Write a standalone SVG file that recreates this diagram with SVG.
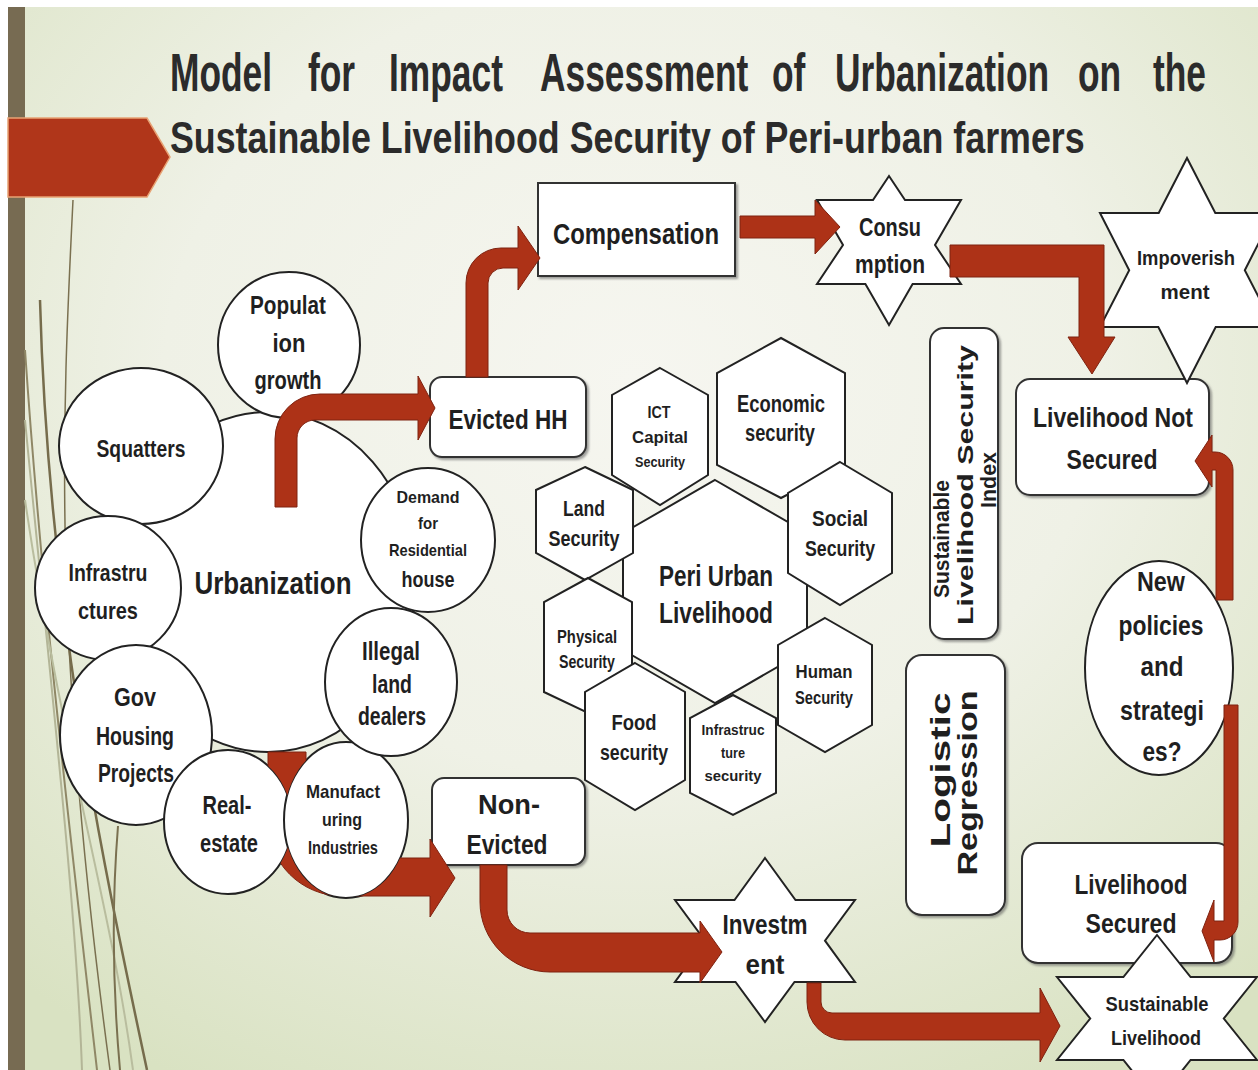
<svg xmlns="http://www.w3.org/2000/svg" width="1258" height="1070" viewBox="0 0 1258 1070">
  <defs>
    <radialGradient id="bgGrad" cx="0.5" cy="0.35" r="0.75">
      <stop offset="0" stop-color="#f6f6f0"/>
      <stop offset="0.5" stop-color="#eff1e6"/>
      <stop offset="1" stop-color="#d9e2c2"/>
    </radialGradient>
    <filter id="sh" x="-10%" y="-10%" width="130%" height="130%">
      <feDropShadow dx="2" dy="2" stdDeviation="1" flood-color="#555" flood-opacity="0.55"/>
    </filter>
    <mask id="behindIndustries">
      <rect x="0" y="0" width="1258" height="1070" fill="#fff"/>
      <ellipse cx="346" cy="820" rx="62" ry="78" fill="#000"/>
      <ellipse cx="228" cy="822" rx="64" ry="72" fill="#000"/>
    </mask>
    <style>
      .nd { fill: #fff; stroke: #222; stroke-width: 2; }
      .bx { fill: #fff; stroke: #333; stroke-width: 2; filter: url(#sh); }
      .ar { fill: #ad3217; stroke: #7e2210; stroke-width: 1; }
      .t { font-family: 'Liberation Sans', Arial, sans-serif; font-weight: 700; fill: #1f1f1f; text-anchor: middle; }
      .ttl { font-family: 'Liberation Sans', Arial, sans-serif; font-weight: 700; fill: #2b2b2b; }
      .deco { fill: none; }
    </style>
  </defs>

  <!-- slide background -->
  <rect x="0" y="0" width="1258" height="1070" fill="#fff"/>
  <rect x="8" y="7" width="1250" height="1063" fill="url(#bgGrad)"/>
  <rect x="8" y="7" width="17" height="1063" fill="#776b52"/>

  <!-- decorative curves on the left -->
  <g class="deco">
    <path d="M73 200 C62 420 52 640 110 1070" stroke="#7a7050" stroke-width="1.5"/>
    <path d="M25 350 C42 600 72 850 97 1070" stroke="#8f8766" stroke-width="2"/>
    <path d="M25 420 C50 680 76 900 82 1070" stroke="#b3b597" stroke-width="2"/>
    <path d="M40 300 C48 600 100 850 147 1070" stroke="#766c4c" stroke-width="2.5"/>
    <path d="M25 500 C62 750 110 900 133 1070" stroke="#b9bd9e" stroke-width="2"/>
    <path d="M118 826 C112 900 112 980 120 1070" stroke="#7a7050" stroke-width="2"/>
  </g>

  <!-- title banner -->
  <polygon points="8,118 147,118 170,157 147,197 8,197" fill="#b0361a" stroke="#e8a274" stroke-width="1.5"/>
  <g id="title">
    <text class="ttl" transform="translate(0,91) scale(0.655,1)" font-size="54"><tspan x="259.5">Model</tspan><tspan x="470.2">for</tspan><tspan x="593.9">Impact</tspan><tspan x="824.4">Assessment</tspan><tspan x="1178.6">of</tspan><tspan x="1274.8">Urbanization</tspan><tspan x="1645.8">on</tspan><tspan x="1760.3">the</tspan></text>
    <text class="ttl" transform="translate(170,153) scale(0.8135,1)" font-size="44" x="0">Sustainable Livelihood Security of Peri-urban farmers</text>
  </g>

  <g id="nodes">
    <!-- urbanization cluster -->
    <g id="urbanization">
      <ellipse class="nd" cx="268" cy="582" rx="148" ry="170"/>
      <text class="t" x="273" y="594" font-size="32" textLength="157" lengthAdjust="spacingAndGlyphs">Urbanization</text>
    </g>
    <g id="population-growth">
      <ellipse class="nd" cx="289" cy="345" rx="71" ry="73"/>
      <text class="t" x="288" y="314" font-size="26" textLength="76" lengthAdjust="spacingAndGlyphs">Populat</text>
      <text class="t" x="289" y="352" font-size="26" textLength="33" lengthAdjust="spacingAndGlyphs">ion</text>
      <text class="t" x="288" y="389" font-size="26" textLength="67" lengthAdjust="spacingAndGlyphs">growth</text>
    </g>
    <g id="squatters">
      <ellipse class="nd" cx="141" cy="446" rx="82" ry="78"/>
      <text class="t" x="141" y="457" font-size="24" textLength="89" lengthAdjust="spacingAndGlyphs">Squatters</text>
    </g>
    <g id="infrastructures">
      <ellipse class="nd" cx="108" cy="588" rx="73" ry="72"/>
      <text class="t" x="108" y="581" font-size="24" textLength="79" lengthAdjust="spacingAndGlyphs">Infrastru</text>
      <text class="t" x="108" y="619" font-size="24" textLength="60" lengthAdjust="spacingAndGlyphs">ctures</text>
    </g>
    <g id="gov-housing">
      <ellipse class="nd" cx="136" cy="735" rx="76" ry="90"/>
      <text class="t" x="135" y="706" font-size="25" textLength="42" lengthAdjust="spacingAndGlyphs">Gov</text>
      <text class="t" x="135" y="745" font-size="25" textLength="78" lengthAdjust="spacingAndGlyphs">Housing</text>
      <text class="t" x="136" y="782" font-size="25" textLength="76" lengthAdjust="spacingAndGlyphs">Projects</text>
    </g>
    <g id="real-estate">
      <ellipse class="nd" cx="228" cy="822" rx="64" ry="72"/>
      <text class="t" x="227" y="814" font-size="25" textLength="49" lengthAdjust="spacingAndGlyphs">Real-</text>
      <text class="t" x="229" y="852" font-size="25" textLength="58" lengthAdjust="spacingAndGlyphs">estate</text>
    </g>
    <g id="manufacturing">
      <ellipse class="nd" cx="346" cy="820" rx="62" ry="78"/>
      <text class="t" x="343" y="798" font-size="19" textLength="74" lengthAdjust="spacingAndGlyphs">Manufact</text>
      <text class="t" x="342" y="826" font-size="19" textLength="40" lengthAdjust="spacingAndGlyphs">uring</text>
      <text class="t" x="343" y="854" font-size="19" textLength="70" lengthAdjust="spacingAndGlyphs">Industries</text>
    </g>
    <g id="illegal-dealers">
      <ellipse class="nd" cx="391" cy="682" rx="66" ry="74"/>
      <text class="t" x="391" y="660" font-size="25" textLength="58" lengthAdjust="spacingAndGlyphs">Illegal</text>
      <text class="t" x="392" y="693" font-size="25" textLength="40" lengthAdjust="spacingAndGlyphs">land</text>
      <text class="t" x="392" y="725" font-size="25" textLength="68" lengthAdjust="spacingAndGlyphs">dealers</text>
    </g>
    <g id="residential-demand">
      <ellipse class="nd" cx="428" cy="540" rx="67" ry="72"/>
      <text class="t" x="428" y="503" font-size="17" textLength="63" lengthAdjust="spacingAndGlyphs">Demand</text>
      <text class="t" x="428" y="529" font-size="17" textLength="20" lengthAdjust="spacingAndGlyphs">for</text>
      <text class="t" x="428" y="556" font-size="17" textLength="78" lengthAdjust="spacingAndGlyphs">Residential</text>
      <text class="t" x="428" y="587" font-size="22" textLength="53" lengthAdjust="spacingAndGlyphs">house</text>
    </g>

    <!-- outcome boxes -->
    <g id="evicted">
      <rect class="bx" x="430" y="377" width="156" height="80" rx="12"/>
      <text class="t" x="508" y="429" font-size="28" textLength="119" lengthAdjust="spacingAndGlyphs">Evicted HH</text>
    </g>
    <g id="non-evicted">
      <rect class="bx" x="432" y="778" width="153" height="87" rx="12"/>
      <text class="t" x="509" y="814" font-size="28" textLength="62" lengthAdjust="spacingAndGlyphs">Non-</text>
      <text class="t" x="507" y="854" font-size="28" textLength="81" lengthAdjust="spacingAndGlyphs">Evicted</text>
    </g>
    <g id="compensation">
      <rect class="bx" x="538" y="183" width="197" height="93"/>
      <text class="t" x="636" y="244" font-size="29" textLength="166" lengthAdjust="spacingAndGlyphs">Compensation</text>
    </g>

    <!-- livelihood hexagons -->
    <g id="peri-urban-livelihood">
      <polygon class="nd" points="715,480 807,533 807,650 715,703 623,650 623,533"/>
      <text class="t" x="716" y="586" font-size="30" textLength="114" lengthAdjust="spacingAndGlyphs">Peri Urban</text>
      <text class="t" x="716" y="623" font-size="30" textLength="114" lengthAdjust="spacingAndGlyphs">Livelihood</text>
    </g>
    <g id="ict-security">
      <polygon class="nd" points="660,368 708,395 708,475 660,505 612,475 612,395"/>
      <text class="t" x="659" y="418" font-size="16" textLength="23" lengthAdjust="spacingAndGlyphs">ICT</text>
      <text class="t" x="660" y="443" font-size="17" textLength="56" lengthAdjust="spacingAndGlyphs">Capital</text>
      <text class="t" x="660" y="467" font-size="14" textLength="50" lengthAdjust="spacingAndGlyphs">Security</text>
    </g>
    <g id="economic-security">
      <polygon class="nd" points="781,338 845,373 845,465 781,498 717,465 717,373"/>
      <text class="t" x="781" y="412" font-size="23" textLength="88" lengthAdjust="spacingAndGlyphs">Economic</text>
      <text class="t" x="780" y="441" font-size="23" textLength="70" lengthAdjust="spacingAndGlyphs">security</text>
    </g>
    <g id="land-security">
      <polygon class="nd" points="585,467 633,490 633,553 585,580 536,553 536,490"/>
      <text class="t" x="584" y="516" font-size="22" textLength="42" lengthAdjust="spacingAndGlyphs">Land</text>
      <text class="t" x="584" y="546" font-size="22" textLength="71" lengthAdjust="spacingAndGlyphs">Security</text>
    </g>
    <g id="social-security">
      <polygon class="nd" points="840,462 892,493 892,573 840,605 788,573 788,493"/>
      <text class="t" x="840" y="526" font-size="22" textLength="56" lengthAdjust="spacingAndGlyphs">Social</text>
      <text class="t" x="840" y="556" font-size="22" textLength="70" lengthAdjust="spacingAndGlyphs">Security</text>
    </g>
    <g id="physical-security">
      <polygon class="nd" points="588,578 632,602 632,692 588,713 544,692 544,602"/>
      <text class="t" x="587" y="643" font-size="18" textLength="60" lengthAdjust="spacingAndGlyphs">Physical</text>
      <text class="t" x="587" y="668" font-size="18" textLength="56" lengthAdjust="spacingAndGlyphs">Security</text>
    </g>
    <g id="human-security">
      <polygon class="nd" points="825,618 872,645 872,725 825,752 778,725 778,645"/>
      <text class="t" x="824" y="678" font-size="18" textLength="57" lengthAdjust="spacingAndGlyphs">Human</text>
      <text class="t" x="824" y="704" font-size="18" textLength="58" lengthAdjust="spacingAndGlyphs">Security</text>
    </g>
    <g id="food-security">
      <polygon class="nd" points="635,663 685,692 685,780 635,810 585,780 585,692"/>
      <text class="t" x="634" y="730" font-size="22" textLength="45" lengthAdjust="spacingAndGlyphs">Food</text>
      <text class="t" x="634" y="760" font-size="22" textLength="68" lengthAdjust="spacingAndGlyphs">security</text>
    </g>
    <g id="infrastructure-security">
      <polygon class="nd" points="733,695 776,718 776,793 733,815 690,793 690,718"/>
      <text class="t" x="733" y="735" font-size="15" textLength="63" lengthAdjust="spacingAndGlyphs">Infrastruc</text>
      <text class="t" x="733" y="758" font-size="15" textLength="24" lengthAdjust="spacingAndGlyphs">ture</text>
      <text class="t" x="733" y="781" font-size="15" textLength="57" lengthAdjust="spacingAndGlyphs">security</text>
    </g>

    <!-- star-shaped outcomes -->
    <g id="consumption">
      <polygon class="nd" points="889,176 905,200 961,200 935,245 961,284 912.6,284 889,325 865.4,284 817,284 843,245 817,200 873,200"/>
      <text class="t" x="890" y="236" font-size="25" textLength="62" lengthAdjust="spacingAndGlyphs">Consu</text>
      <text class="t" x="890" y="273" font-size="25" textLength="70" lengthAdjust="spacingAndGlyphs">mption</text>
    </g>
    <g id="investment">
      <polygon class="nd" points="765,858 795.5,900 855,900 825,940.7 855,982 794.5,982 765,1022 735.5,982 675,982 705,940.7 675,900 734.5,900"/>
      <text class="t" x="765" y="934" font-size="27" textLength="85" lengthAdjust="spacingAndGlyphs">Investm</text>
      <text class="t" x="765" y="974" font-size="27" textLength="39" lengthAdjust="spacingAndGlyphs">ent</text>
    </g>

    <!-- analysis boxes (vertical labels) -->
    <g id="slsi">
      <rect class="bx" x="930" y="328" width="68" height="311" rx="14"/>
      <text class="t" transform="translate(949,539) rotate(-90)" font-size="22" textLength="118" lengthAdjust="spacingAndGlyphs">Sustainable</text>
      <text class="t" transform="translate(973,485) rotate(-90)" font-size="22" textLength="280" lengthAdjust="spacingAndGlyphs">Livelihood Security</text>
      <text class="t" transform="translate(996,480) rotate(-90)" font-size="22" textLength="56" lengthAdjust="spacingAndGlyphs">Index</text>
    </g>
    <g id="logistic-regression">
      <rect class="bx" x="906" y="655" width="99" height="260" rx="16"/>
      <text class="t" transform="translate(950,770) rotate(-90)" font-size="28" textLength="155" lengthAdjust="spacingAndGlyphs">Logistic</text>
      <text class="t" transform="translate(977,783) rotate(-90)" font-size="28" textLength="185" lengthAdjust="spacingAndGlyphs">Regression</text>
    </g>

    <!-- right-hand outcomes -->
    <g id="livelihood-not-secured">
      <rect class="bx" x="1016" y="379" width="193" height="116" rx="14"/>
      <text class="t" x="1113" y="427" font-size="28" textLength="160" lengthAdjust="spacingAndGlyphs">Livelihood Not</text>
      <text class="t" x="1112" y="469" font-size="28" textLength="91" lengthAdjust="spacingAndGlyphs">Secured</text>
    </g>
    <g id="impoverishment">
      <polygon class="nd" points="1187,158 1215.3,213 1274,213 1244.8,270.2 1274,327 1215.7,327 1187,383 1158.3,327 1100,327 1129.2,270.2 1100,213 1158.7,213"/>
      <text class="t" x="1186" y="265" font-size="20" textLength="98" lengthAdjust="spacingAndGlyphs">Impoverish</text>
      <text class="t" x="1185" y="299" font-size="20" textLength="49" lengthAdjust="spacingAndGlyphs">ment</text>
    </g>
    <g id="new-policies">
      <ellipse class="nd" cx="1159" cy="668" rx="74" ry="107"/>
      <text class="t" x="1161" y="591" font-size="27" textLength="48" lengthAdjust="spacingAndGlyphs">New</text>
      <text class="t" x="1161" y="635" font-size="27" textLength="85" lengthAdjust="spacingAndGlyphs">policies</text>
      <text class="t" x="1162" y="676" font-size="27" textLength="43" lengthAdjust="spacingAndGlyphs">and</text>
      <text class="t" x="1162" y="720" font-size="27" textLength="84" lengthAdjust="spacingAndGlyphs">strategi</text>
      <text class="t" x="1162" y="761" font-size="27" textLength="39" lengthAdjust="spacingAndGlyphs">es?</text>
    </g>
    <g id="livelihood-secured">
      <rect class="bx" x="1022" y="843" width="210" height="120" rx="16"/>
      <text class="t" x="1131" y="894" font-size="28" textLength="113" lengthAdjust="spacingAndGlyphs">Livelihood</text>
      <text class="t" x="1131" y="933" font-size="28" textLength="91" lengthAdjust="spacingAndGlyphs">Secured</text>
    </g>
    <g id="sustainable-livelihood">
      <polygon class="nd" points="1157,935 1190.6,977 1257,977 1223.8,1018.5 1257,1060 1190.6,1060 1157,1102 1123.4,1060 1057,1060 1090.2,1018.5 1057,977 1123.4,977"/>
      <text class="t" x="1157" y="1011" font-size="21" textLength="103" lengthAdjust="spacingAndGlyphs">Sustainable</text>
      <text class="t" x="1156" y="1045" font-size="21" textLength="90" lengthAdjust="spacingAndGlyphs">Livelihood</text>
    </g>
  </g>

  <!-- block arrows -->
  <g id="connectors">
    <path class="ar" d="M275 507 L275 439 A45 45 0 0 1 320 394 L418 394 L418 376 L435 408 L418 440 L418 420 L315 420 A18 18 0 0 0 297 438 L297 507 Z"/>
    <path class="ar" d="M466 377 L466 283 A35 35 0 0 1 501 248 L518 248 L518 226 L540 258 L518 290 L518 268 L503 268 A15 15 0 0 0 488 283 L488 377 Z"/>
    <path class="ar" d="M740 216 L815 216 L815 200 L840 227 L815 254 L815 238 L740 238 Z"/>
    <path class="ar" d="M950 245 L1104 245 L1104 337 L1115 337 L1092 374 L1068 337 L1079 337 L1079 277 L950 277 Z"/>
    <path class="ar" mask="url(#behindIndustries)" d="M268 752 L268 822 A74 74 0 0 0 342 896 L430 896 L430 917 L455 878 L430 839 L430 858 L342 858 A36 36 0 0 1 306 822 L306 752 Z"/>
    <path class="ar" d="M480 865 L480 902 A70 70 0 0 0 550 972 L700 972 L700 983 L722 952 L700 921 L700 933 L530 933 A23 23 0 0 1 507 910 L507 865 Z"/>
    <path class="ar" d="M807 983 L807 1002 A38 38 0 0 0 845 1040 L1040 1040 L1040 1062 L1060 1026 L1040 988 L1040 1013 L832 1013 A11 11 0 0 1 821 1002 L821 983 Z"/>
    <path class="ar" d="M1216 600 L1216 470 L1212 470 L1212 487 L1195 461 L1212 435 L1212 452 L1215 452 A18 18 0 0 1 1233 470 L1233 600 Z"/>
    <path class="ar" d="M1224 705 L1238 705 L1238 922 A18 18 0 0 1 1220 940 L1214 940 L1214 962 L1202 931 L1214 900 L1214 921 L1224 921 Z"/>
  </g>
</svg>
